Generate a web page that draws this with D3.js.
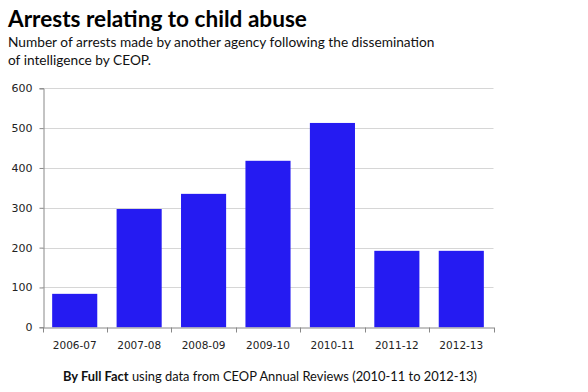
<!DOCTYPE html>
<html><head><meta charset="utf-8">
<script src="https://cdn.jsdelivr.net/npm/d3@7"></script>
<style>body{margin:0;background:#fff}svg{display:block}</style>
</head><body>
<svg id="c" width="588" height="392"></svg>
<script>
const categories = ["2006-07","2007-08","2008-09","2009-10","2010-11","2011-12","2012-13"];
const values = [84, 297, 335, 418, 513, 192, 192];
const yTicks = [0,100,200,300,400,500,600];

const svg = d3.select("#c");
const m = {l:42.5, r:94.5, t:88.3, b:64.7};
const W = 588, H = 392;
const x = d3.scaleBand().domain(categories).range([m.l, W - m.r]).paddingInner(0.3).paddingOuter(0.15);
const y = d3.scaleLinear().domain([0,600]).range([H - m.b, m.t]);

// grid
svg.append("g").selectAll("line").data(yTicks.filter(d=>d>0)).join("line")
  .attr("x1", m.l).attr("x2", W - m.r)
  .attr("y1", d=>Math.round(y(d))+0.5).attr("y2", d=>Math.round(y(d))+0.5)
  .attr("stroke", "#d6d6d6").attr("stroke-width", 1);

// bars
svg.append("g").selectAll("rect").data(values).join("rect")
  .attr("x", (d,i)=>x(categories[i])).attr("width", x.bandwidth())
  .attr("y", d=>y(d)).attr("height", d=>y(0)-y(d))
  .attr("fill", "#251bf2");

// y axis
const ya = svg.append("g").attr("transform", `translate(${Math.round(m.l)+0.5},0)`)
  .call(d3.axisLeft(y).tickValues(yTicks).tickSize(4).tickPadding(7));
// x axis
const xa = svg.append("g").attr("transform", `translate(0,${Math.round(y(0))+0.5})`)
  .call(d3.axisBottom(x).tickSize(0).tickPadding(14));
// x boundary ticks
const edges = categories.map(c=>x(c) - x.step()*x.paddingInner()/2);
edges.push(W - m.r);
xa.selectAll(".edge").data(edges).join("line").attr("class","edge")
  .attr("x1", d=>Math.round(d)+0.5).attr("x2", d=>Math.round(d)+0.5)
  .attr("y1", 0).attr("y2", 5).attr("stroke", "#888");

[ya, xa].forEach(g=>{
  g.attr("font-family", null).attr("font-size", null);
  g.selectAll(".domain").attr("stroke", "#888");
  g.selectAll(".tick line").attr("stroke", "#888");
  g.selectAll("text").style("font-family", "'DejaVu Sans', Verdana, sans-serif").attr("fill", "#222");
});
ya.selectAll("text").style("font-size", "11px");
xa.selectAll("text").style("font-size", "10.5px");

// titles
svg.append("text").attr("x", 8).attr("y", 27)
  .attr("font-family", "Lato, sans-serif").attr("font-weight", "bold").attr("font-size", "22.6px")
  .attr("fill", "#000").text("Arrests relating to child abuse");
const sub = svg.append("text").attr("font-family", "Lato, sans-serif").attr("font-size", "13.7px").attr("fill", "#111");
sub.append("tspan").attr("x", 8).attr("y", 47).text("Number of arrests made by another agency following the dissemination");
sub.append("tspan").attr("x", 8).attr("y", 65).text("of intelligence by CEOP.");

const foot = svg.append("text").attr("x", 63).attr("y", 381)
  .attr("font-family", "Lato, sans-serif").attr("font-size", "12.9px").attr("fill", "#111");
foot.append("tspan").attr("font-weight", "bold").text("By Full Fact");
foot.append("tspan").text(" using data from CEOP Annual Reviews (2010-11 to 2012-13)");
</script>
</body></html>
